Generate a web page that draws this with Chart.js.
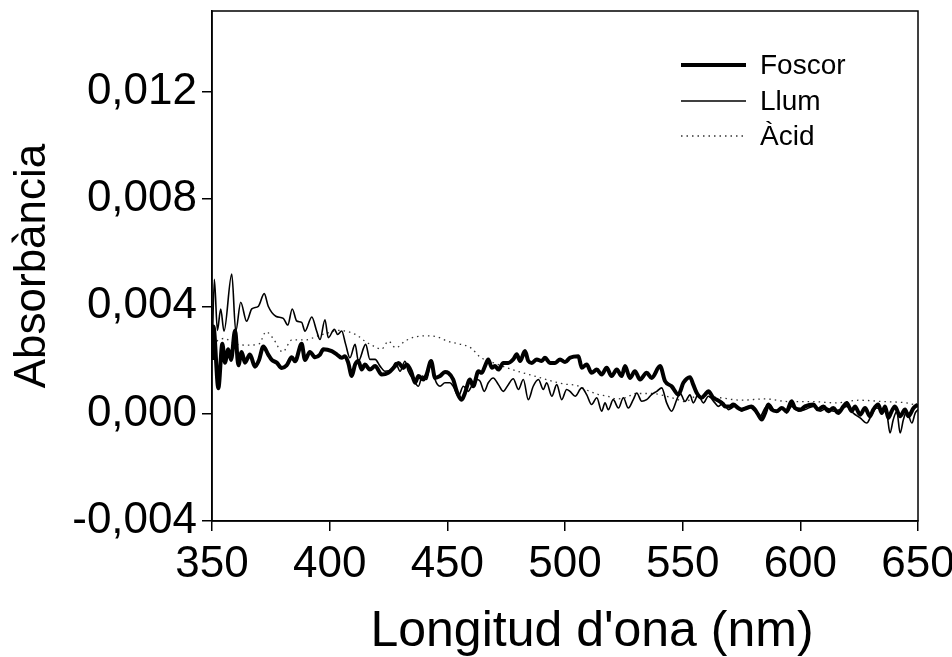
<!DOCTYPE html>
<html>
<head>
<meta charset="utf-8">
<script src="https://cdn.jsdelivr.net/npm/chart.js@4"></script>
<style>
  html, body { margin: 0; padding: 0; background: #fff; }
  #wrap { width: 952px; height: 657px; }
</style>
</head>
<body>
<div id="wrap"><canvas id="myChart" width="952" height="657"></canvas></div>
<script>
// Foscor (thick line)
const foscorWl = [350,350.6,352.7,354.4,355.5,356.9,358.1,359.8,361.2,362.6,364,366.1,368.3,370,371.8,373.9,375.4,377.5,379.6,381.7,383.9,385.3,388.1,389.5,391.6,393.8,395.9,397.3,400.9,403,405.1,406.5,407.9,409.4,410.8,412.2,413.6,415,417.1,419.3,422.1,424.9,427.8,429.2,431.3,432.7,434.6,436.3,437.7,439.8,441.2,443.1,444.8,446.9,449,450.4,452.5,454,456.1,457.5,459.6,461,463.2,464.6,466,467.4,468.9,470.3,471.7,473.8,475.9,478,479.5,480.9,483,484.4,485.9,488,490.1,491.5,493.6,495.8,497.9,500,502.1,505.7,507.1,509.2,511.3,513.5,515.6,517.7,519.8,522,524.1,525.5,527.6,529.7,531.9,534.7,536.8,540.4,542.5,545.3,548.2,550.3,553.1,554.5,556,558.1,559.5,560.9,563,564.5,566.6,568,570.1,571.5,573.6,575.1,577.2,579.3,580.7,582.1,583.6,585,586.4,587.8,590,592.1,594.2,596.3,597.7,599.9,602,605.5,607.6,609.8,611.9,614,616.1,618.3,619.7,621.8,623.2,625.4,627.5,629.6,631,633.1,634.6,636,637.4,638.8,640.2,642.4,644.5,645.9,648.1,650];
const foscorAbs = [0.0020,0.00325,0.00095,0.0026,0.0019,0.0024,0.0020,0.0031,0.0018,0.0023,0.0019,0.0022,0.00175,0.0020,0.0025,0.0022,0.0020,0.0019,0.0017,0.0018,0.0021,0.00195,0.0026,0.0020,0.0023,0.0021,0.0022,0.0024,0.00233,0.00221,0.00208,0.00214,0.00189,0.0014,0.00183,0.00196,0.00164,0.00183,0.00164,0.00177,0.00146,0.00152,0.00177,0.00189,0.0017,0.00183,0.00158,0.00115,0.0014,0.00127,0.00146,0.00196,0.00133,0.0014,0.00155,0.00152,0.00127,0.00083,0.00052,0.00077,0.00127,0.00102,0.00158,0.00152,0.00177,0.00202,0.00171,0.00177,0.00164,0.00189,0.00189,0.00202,0.00221,0.00196,0.00233,0.00196,0.00189,0.00202,0.00196,0.00208,0.00189,0.00189,0.00202,0.00192,0.00208,0.00214,0.00171,0.00183,0.00152,0.00164,0.00146,0.00171,0.0014,0.00164,0.0014,0.00177,0.00133,0.00158,0.00127,0.00152,0.00133,0.00177,0.00121,0.00102,0.00071,0.00115,0.00136,0.00108,0.00077,0.00059,0.00071,0.00083,0.00059,0.00052,0.0004,0.00027,0.00027,0.00034,0.00021,0.00015,0.00021,0.00027,0.00015,-0.00004,-0.00022,0.00002,0.00034,0.00015,0.00009,0.00021,0.00009,0.00046,0.00021,0.00015,0.00027,0.00034,0.00015,0.00027,0.00009,0.00021,0.00002,0.00027,0.0004,0.00009,0.00027,-0.00004,0.00021,-0.0001,0.00015,0.00034,0.00002,0.00027,-0.00016,0.00009,0.00027,-0.0001,0.00015,-0.0001,0.00021,0.00034];

// Llum (thin line)
const llumWl = [350,351,352.3,353.7,355.1,358.4,360.1,362.2,364.7,366.9,369.7,372.2,373.9,377.1,380.3,382.2,384.1,386,388.1,389.5,392.4,394.5,395.9,398,399.4,402,403.4,405.1,406.8,408.6,410.8,412.2,415.3,417.1,419.3,421.4,423.5,426.3,428,429.9,432,433.4,435.5,437.7,439.4,441.2,443.1,444.8,446.9,449,451.1,452.5,454.7,456.8,458.9,460.3,462.5,463.9,465.7,467.4,469.5,471.7,473.8,475.9,478,480.2,482.3,484.4,486.5,488.7,490.8,492.2,494.4,496.5,498.6,500.7,502.1,504.3,507.1,509.2,511.3,513.5,515.6,517,518.4,520.5,522.7,524.8,526.9,529,530.5,532.6,534.7,536.8,539,541.1,543.2,545.3,547.5,548.9,551,553.1,554.5,556.6,558.8,560.9,563.7,565.1,567.3,569.4,572.2,575.1,577.9,580.7,582.9,585,587.1,589.2,592.1,594.2,596.3,599.2,602,605.5,608.4,611.2,614,616.9,619.7,622.5,625.4,628.2,630.3,632.4,634.6,636.7,638.1,639.5,641,642.4,643.8,645.2,647.4,648.8,650];
const llumAbs = [0.0020,0.0050,0.0031,0.0039,0.00307,0.0052,0.00307,0.00415,0.00344,0.0039,0.0040,0.00447,0.0040,0.00363,0.00355,0.0033,0.0039,0.00345,0.0034,0.00307,0.0036,0.00307,0.00276,0.0035,0.00283,0.00314,0.00295,0.00308,0.00258,0.00208,0.00258,0.00196,0.00258,0.00202,0.00202,0.00177,0.00158,0.00164,0.00189,0.00158,0.00195,0.00158,0.00127,0.00102,0.0014,0.00127,0.00196,0.00127,0.00102,0.00115,0.00115,0.00102,0.00065,0.00102,0.00083,0.00102,0.00127,0.00121,0.00083,0.00115,0.00133,0.00108,0.00083,0.00108,0.0013,0.0009,0.00127,0.00052,0.00102,0.00127,0.0009,0.00115,0.00065,0.00108,0.00052,0.0009,0.00083,0.00065,0.00096,0.00071,0.00034,0.00059,0.00009,0.0004,0.00015,0.00052,0.00021,0.00059,0.00021,0.00052,0.00077,0.00046,0.00052,0.00071,0.00083,0.00096,0.0004,0.00009,0.00052,0.00077,0.00045,0.0007,0.0004,0.00071,0.0004,0.00065,0.0004,0.00027,0.0004,0.00015,0.00027,0.00009,0.00027,0.00009,-0.0001,0.00021,0.00034,0.00009,0.00021,0.00002,0.00027,0.00009,0.00015,0.00027,0.00009,0.00021,0.00009,0.00015,0.00027,0.00002,-0.00016,-0.00035,-0.00004,0.00021,0.00015,0.00002,-0.00072,-0.00022,0.00009,-0.00072,-0.00022,0.00009,-0.00035,0.00002,0.00015];

// Àcid (dotted line)
const acidWl = [350,355,360,365,370,373,376,380,384,390,395,399,403,408,412,415,419,422,425,428,432,436,441,446,450,455,460,464,468,474,479,483,489,495,500,505,510,514,518,522,526,530,537,543,547,551,556,565,575,585,595,605,615,625,635,645,650];
const acidAbs = [0.0026,0.0028,0.0026,0.00255,0.0026,0.00305,0.0028,0.0023,0.00275,0.00275,0.0029,0.0030,0.0031,0.00305,0.0029,0.0027,0.0025,0.0024,0.0027,0.00245,0.0027,0.00285,0.0029,0.00285,0.0027,0.0026,0.00245,0.0021,0.00195,0.00175,0.0016,0.0015,0.00135,0.0012,0.0011,0.00105,0.00085,0.00072,0.00065,0.00055,0.0006,0.00075,0.00075,0.00065,0.00055,0.00045,0.00065,0.0006,0.0005,0.00055,0.00045,0.00045,0.0004,0.0005,0.00045,0.0004,0.0003];

const xTicks = [350,400,450,500,550,600,650];
const yTicks = [-0.004,0,0.004,0.008,0.012];

const FONT = "'Liberation Sans', Arial, sans-serif";

function pts(wl, abs) {
  return wl.map((w, i) => ({x: w, y: abs[i]}));
}

// box round the plot, legend inside it, and the x title (sits right of centre)
const boxPlugin = {
  id: 'box',
  afterDatasetsDraw(chart) {
    const {ctx, chartArea: a} = chart;
    ctx.save();
    ctx.strokeStyle = '#000';
    ctx.lineWidth = 1.5;
    ctx.strokeRect(a.left, a.top, a.right - a.left, a.bottom - a.top);

    const rows = [65, 101, 136];
    chart.data.datasets.forEach((ds, i) => {
      const y = rows[i];
      ctx.beginPath();
      ctx.setLineDash(ds.borderDash || []);
      ctx.lineWidth = ds.borderWidth;
      ctx.strokeStyle = ds.borderColor;
      ctx.moveTo(681, y);
      ctx.lineTo(746, y);
      ctx.stroke();
      ctx.setLineDash([]);
      ctx.fillStyle = '#000';
      ctx.font = '28px ' + FONT;
      ctx.textBaseline = 'middle';
      ctx.textAlign = 'left';
      ctx.fillText(ds.label, 760, y + 1);
    });

    ctx.font = '50px ' + FONT;
    ctx.textAlign = 'center';
    ctx.textBaseline = 'middle';
    ctx.fillText("Longitud d'ona (nm)", 592, 632);
    ctx.restore();
  }
};

const chartRef = document.getElementById('myChart').getContext('2d');
new Chart(chartRef, {
  type: 'line',
  data: {
    datasets: [
      {
        label: 'Foscor',
        data: pts(foscorWl, foscorAbs),
        borderColor: '#000',
        borderWidth: 4,
        pointRadius: 0,
        cubicInterpolationMode: 'monotone'
      },
      {
        label: 'Llum',
        data: pts(llumWl, llumAbs),
        borderColor: '#000',
        borderWidth: 1.6,
        pointRadius: 0,
        cubicInterpolationMode: 'monotone'
      },
      {
        label: 'Àcid',
        data: pts(acidWl, acidAbs),
        borderColor: '#333',
        borderWidth: 1.3,
        borderDash: [1.5, 4],
        pointRadius: 0,
        cubicInterpolationMode: 'monotone'
      }
    ]
  },
  options: {
    responsive: false,
    animation: false,
    layout: { padding: { left: 0, top: 11, right: 34, bottom: 0 } },
    plugins: { legend: { display: false }, tooltip: { enabled: false } },
    scales: {
      x: {
        type: 'linear',
        min: 350,
        max: 650,
        afterFit: (s) => { s.height = 136; s.paddingLeft = 0; s.paddingRight = 0; },
        afterBuildTicks: (s) => { s.ticks = xTicks.map(v => ({value: v})); },
        grid: { drawOnChartArea: false, drawTicks: true, tickLength: 10, color: '#000', lineWidth: 1.5 },
        border: { color: '#000', width: 1.5 },
        ticks: { color: '#000', padding: 7, maxRotation: 0, font: { family: FONT, size: 44 } },
        title: { display: false }
      },
      y: {
        min: -0.004,
        max: 0.015,
        afterFit: (s) => { s.width = 212; s.paddingTop = 0; s.paddingBottom = 0; },
        afterBuildTicks: (s) => { s.ticks = yTicks.map(v => ({value: v})); },
        grid: { drawOnChartArea: false, drawTicks: true, tickLength: 10, color: '#000', lineWidth: 1.5 },
        border: { color: '#000', width: 1.5 },
        ticks: {
          color: '#000',
          padding: 5,
          font: { family: FONT, size: 44 },
          callback: (v) => Number(v).toFixed(3).replace('.', ',')
        },
        title: {
          display: true,
          text: 'Absorbància',
          color: '#000',
          font: { family: FONT, size: 44, lineHeight: 1 },
          padding: { top: 11, bottom: 0 }
        }
      }
    }
  },
  plugins: [boxPlugin]
});
</script>
</body>
</html>
